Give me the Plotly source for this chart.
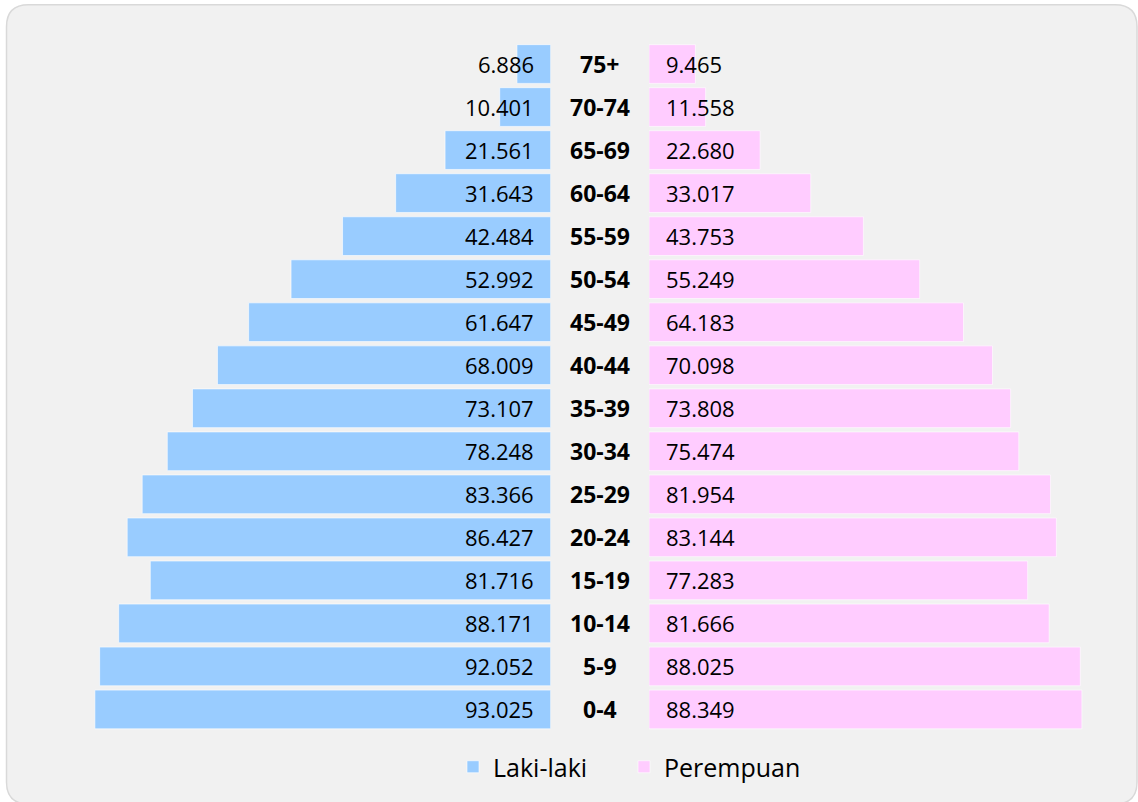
import plotly.graph_objects as go

age_groups = ["0-4", "5-9", "10-14", "15-19", "20-24", "25-29", "30-34", "35-39",
              "40-44", "45-49", "50-54", "55-59", "60-64", "65-69", "70-74", "75+"]
male = [93025, 92052, 88171, 81716, 86427, 83366, 78248, 73107,
        68009, 61647, 52992, 42484, 31643, 21561, 10401, 6886]
female = [88349, 88025, 81666, 77283, 83144, 81954, 75474, 73808,
          70098, 64183, 55249, 43753, 33017, 22680, 11558, 9465]

W, H = 1138, 802
FONT = "Open Sans"
MALE_C = "#99ccff"
FEMALE_C = "#ffccff"


def fmt(v):
    return f"{v:,}".replace(",", ".")


fig = go.Figure()
fig.add_trace(go.Bar(
    y=age_groups, x=male, orientation="h", name="Laki-laki",
    marker=dict(color=MALE_C, line=dict(color="rgba(255,255,255,0.6)", width=1)),
    xaxis="x", yaxis="y", hoverinfo="skip", legend="legend",
))
fig.add_trace(go.Bar(
    y=age_groups, x=female, orientation="h", name="Perempuan",
    marker=dict(color=FEMALE_C, line=dict(color="rgba(255,255,255,0.6)", width=1)),
    xaxis="x2", yaxis="y", hoverinfo="skip", legend="legend2",
))

annotations = []
for g, m, f in zip(age_groups, male, female):
    annotations.append(dict(x=0, y=g, xref="x", yref="y", text=fmt(m), showarrow=False,
                            xanchor="right", xshift=-15, font=dict(family=FONT, size=22, color="#000")))
    annotations.append(dict(x=0, y=g, xref="x2", yref="y", text=fmt(f), showarrow=False,
                            xanchor="left", xshift=15, font=dict(family=FONT, size=22, color="#000")))
    annotations.append(dict(x=599.85 / W, y=g, xref="paper", yref="y", text="<b>" + g + "</b>",
                            showarrow=False, xanchor="center",
                            font=dict(family=FONT, size=23, color="#000")))

# rounded panel
x0, x1 = 6.5 / W, 1137 / W
y0, y1 = 1 - 804 / H, 1 - 4.7 / H
rx, ry = 22 / W, 22 / H
panel = (f"M {x0+rx},{y1} L {x1-rx},{y1} Q {x1},{y1} {x1},{y1-ry} "
         f"L {x1},{y0+ry} Q {x1},{y0} {x1-rx},{y0} L {x0+rx},{y0} "
         f"Q {x0},{y0} {x0},{y0+ry} L {x0},{y1-ry} Q {x0},{y1} {x0+rx},{y1} Z")

legend_common = dict(orientation="h", xanchor="left", y=1 - 767 / H, yanchor="middle",
                     font=dict(family=FONT, size=25, color="#000"), bgcolor="rgba(0,0,0,0)",
                     itemclick=False, itemdoubleclick=False)

fig.update_layout(
    width=W, height=H,
    margin=dict(l=0, r=0, t=0, b=0),
    paper_bgcolor="white", plot_bgcolor="rgba(0,0,0,0)",
    barmode="overlay", bargap=0.1,
    font=dict(family=FONT, color="#000"),
    xaxis=dict(domain=[0.07487, 0.48392], range=[95000, 0], visible=False, fixedrange=True),
    xaxis2=dict(domain=[0.57030, 0.97935], range=[0, 95000], visible=False, anchor="y", fixedrange=True),
    yaxis=dict(domain=[0.08853, 0.94701], range=[-0.5, 15.5], visible=False,
               categoryorder="array", categoryarray=age_groups, fixedrange=True),
    showlegend=True,
    legend=dict(x=(467 - 14) / W, **legend_common),
    legend2=dict(x=(638 - 14) / W, **legend_common),
    shapes=[dict(type="path", path=panel, xref="paper", yref="paper", layer="below",
                 fillcolor="#f1f1f1", line=dict(color="#d9d9d9", width=1.5))],
    annotations=annotations,
)

fig.write_html("out.html", config={"displayModeBar": False},
               post_script="document.body.style.margin='0';document.body.style.padding='0';")
